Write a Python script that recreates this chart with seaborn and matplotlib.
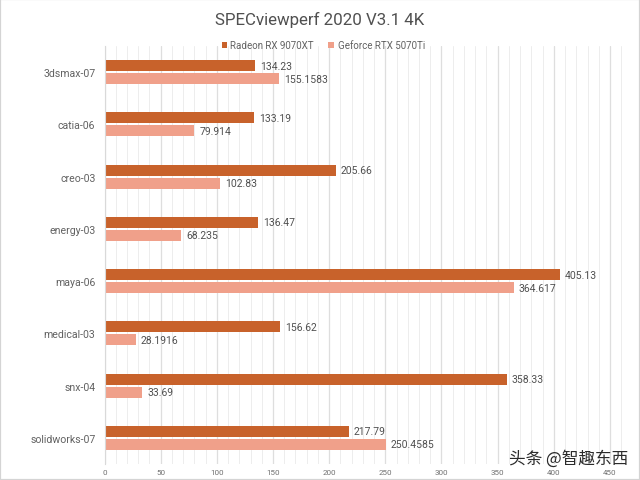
import matplotlib
matplotlib.use("Agg")
import matplotlib.pyplot as plt
from matplotlib.patches import Rectangle
from matplotlib.ticker import MultipleLocator
import pandas as pd
import seaborn as sns

categories = ["3dsmax-07", "catia-06", "creo-03", "energy-03", "maya-06", "medical-03", "snx-04", "solidworks-07"]
radeon = [134.23, 133.19, 205.66, 136.47, 405.13, 156.62, 358.33, 217.79]
geforce = [155.1583, 79.914, 102.83, 68.235, 364.617, 28.1916, 33.69, 250.4585]
radeon_labels = ["134.23", "133.19", "205.66", "136.47", "405.13", "156.62", "358.33", "217.79"]
geforce_labels = ["155.1583", "79.914", "102.83", "68.235", "364.617", "28.1916", "33.69", "250.4585"]
series_names = ["Radeon RX 9070XT", "Geforce RTX 5070Ti"]
colors = ["#C8622B", "#F0A08A"]

sns.set_theme(style="white")
plt.rcParams["font.family"] = ["Roboto", "DejaVu Sans"]

df = pd.DataFrame({
    "cat": categories * 2,
    "val": radeon + geforce,
    "series": [series_names[0]] * 8 + [series_names[1]] * 8,
})

fig = plt.figure(figsize=(6.4, 4.81), dpi=100)
W, H = 640, 481
L, R, T, B = 104.5, 628, 47, 465
ax = fig.add_axes([L / W, 1 - B / H, (R - L) / W, (B - T) / H])

sns.barplot(data=df, y="cat", x="val", hue="series", palette=colors, order=categories,
            hue_order=series_names, width=0.5, gap=0.17, saturation=1, legend=False,
            linewidth=0, ax=ax)

ax.set_xlim(0, (R - L) / 1.1233)
ax.set_ylim(7.5, -0.5)
ax.set_xlabel("")
ax.set_ylabel("")
ax.xaxis.set_major_locator(MultipleLocator(50))
ax.xaxis.set_minor_locator(MultipleLocator(10))
ax.grid(True, axis="x", which="major", color="#DEDEDE", lw=0.9)
ax.grid(True, axis="x", which="minor", color="#EDEDED", lw=0.7)
ax.set_axisbelow(True)
for s in ["top", "right", "bottom"]:
    ax.spines[s].set_visible(False)
ax.spines["left"].set_color("#D9D9D9")
ax.spines["left"].set_linewidth(0.8)
ax.tick_params(axis="x", which="both", length=0, labelsize=5.8, labelcolor="#707070", pad=3.5)
ax.tick_params(axis="y", length=0, labelsize=7.6, labelcolor="#626262", pad=6.5)

for cont, labels in zip(ax.containers, [radeon_labels, geforce_labels]):
    ax.bar_label(cont, labels=labels, padding=3.5, fontsize=7.5, color="#505050")

fig.text(319.5 / W, 1 - 20 / H, "SPECviewperf 2020 V3.1 4K", ha="center", va="center",
         fontsize=12.2, color="#505050")

for x0, tx, name, c in [(221.5, 230, series_names[0], colors[0]), (328, 337.5, series_names[1], colors[1])]:
    fig.add_artist(Rectangle((x0 / W, 1 - 49 / H), 5.5 / W, 5.5 / H, transform=fig.transFigure, color=c, lw=0))
    fig.text(tx / W, 1 - 46 / H, name, ha="left", va="center", fontsize=7.0, color="#626262")

fig.text(509 / W, 1 - 459.5 / H, "头条 @智趣东西", ha="left", va="center", fontsize=12,
         color="#2B2B2B", fontweight="medium", family=["Noto Sans CJK SC", "DejaVu Sans"])

fig.add_artist(Rectangle((0, 0), 1, 1, transform=fig.transFigure, fill=False, ec="#D4D4D4", lw=1.6))
fig.savefig("out.png", dpi=100)
